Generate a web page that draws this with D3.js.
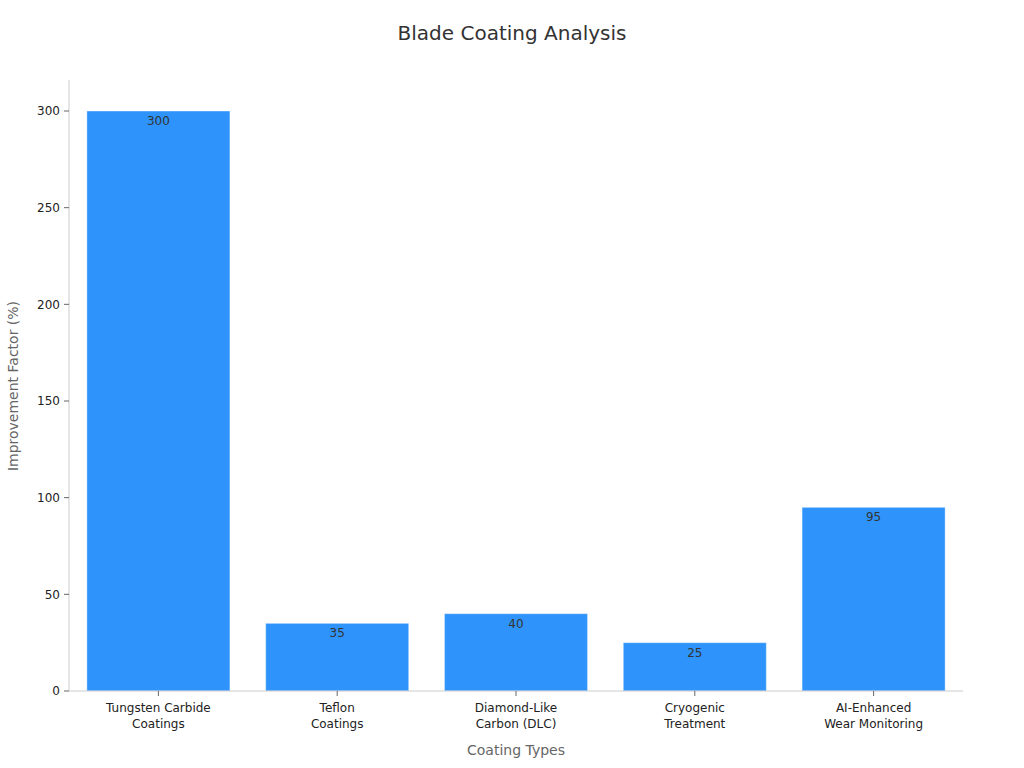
<!DOCTYPE html>
<html><head><meta charset="utf-8">
<script src="https://cdn.jsdelivr.net/npm/d3@7"></script>
<style>body{margin:0;background:#fff;font-family:"DejaVu Sans",sans-serif;}</style>
</head><body><svg id="c" width="1024" height="768"></svg>
<script>
const categories = [["Tungsten Carbide","Coatings"],["Teflon","Coatings"],["Diamond-Like","Carbon (DLC)"],["Cryogenic","Treatment"],["AI-Enhanced","Wear Monitoring"]];
const values = [300, 35, 40, 25, 95];
const yTicks = [0, 50, 100, 150, 200, 250, 300];

const svg = d3.select("#c");
const m = {l:69, r:963, t:80, b:691};
const x = d3.scaleBand().domain(d3.range(values.length)).range([m.l, m.r]).paddingInner(0.2).paddingOuter(0.1);
const y = d3.scaleLinear().domain([0, 300]).range([m.b, 111]);

svg.append("text").attr("x",512).attr("y",40).attr("text-anchor","middle").attr("font-size",20).attr("fill","#333").text("Blade Coating Analysis");

svg.selectAll("rect.bar").data(values).join("rect").attr("class","bar")
 .attr("x",(d,i)=>x(i)).attr("width",x.bandwidth()).attr("y",d=>y(d)).attr("height",d=>m.b-y(d))
 .attr("fill","#2E93FA").attr("stroke","#fff").attr("stroke-opacity",0.4);

svg.selectAll("text.val").data(values).join("text").attr("class","val")
 .attr("x",(d,i)=>x(i)+x.bandwidth()/2).attr("y",d=>y(d)+14).attr("text-anchor","middle")
 .attr("font-size",12).attr("fill","#333").text(d=>d);

// axes
svg.append("line").attr("x1",m.l).attr("x2",m.l).attr("y1",m.t).attr("y2",m.b).attr("stroke","#ccc");
svg.append("line").attr("x1",m.l).attr("x2",m.r).attr("y1",m.b).attr("y2",m.b).attr("stroke","#ccc");
const yt = svg.selectAll("g.yt").data(yTicks).join("g").attr("transform",d=>`translate(${m.l},${y(d)})`);
yt.append("line").attr("x1",-5).attr("x2",0).attr("stroke","#666");
yt.append("text").attr("x",-9).attr("dy","0.35em").attr("text-anchor","end").attr("font-size",12).attr("fill","#222").text(d=>d);

const xt = svg.selectAll("g.xt").data(categories).join("g").attr("transform",(d,i)=>`translate(${x(i)+x.bandwidth()/2},${m.b})`);
xt.append("line").attr("y2",5).attr("stroke","#666");
xt.each(function(d){ const g=d3.select(this);
 d.forEach((s,k)=>g.append("text").attr("y",21+k*16).attr("text-anchor","middle").attr("font-size",12).attr("fill","#222").text(s));});

svg.append("text").attr("x",516).attr("y",755).attr("text-anchor","middle").attr("font-size",14).attr("fill","#666").text("Coating Types");
svg.append("text").attr("transform","translate(18,386) rotate(-90)").attr("text-anchor","middle").attr("font-size",14).attr("fill","#666").text("Improvement Factor (%)");
</script></body></html>
